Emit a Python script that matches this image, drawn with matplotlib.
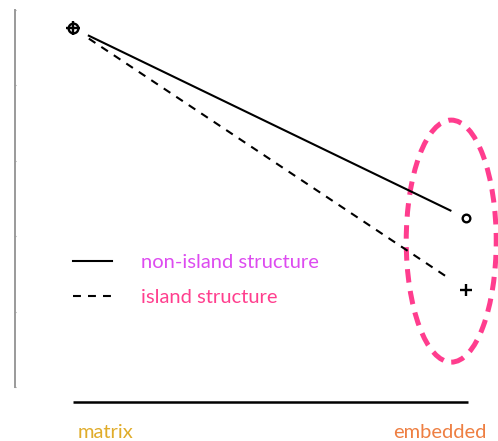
import numpy as np
import matplotlib
matplotlib.use("Agg")
import matplotlib.pyplot as plt
from matplotlib.patches import Ellipse

# categories along x and the two series (start at matrix, end at embedded)
categories = ["matrix", "embedded"]
series_names = ["non-island structure", "island structure"]
non_island = [4.76, 2.24]
island = [4.76, 1.29]
y_ticks = [0, 1, 2, 3, 4, 5]

cat_colors = ["#E0AC2A", "#EE7F42"]
label_colors = ["#DD4BF0", "#FF3F8E"]
ellipse_color = "#FF3D8E"

plt.rcParams['font.family'] = ['Lato', 'DejaVu Sans']

fig = plt.figure(figsize=(4.98, 4.41), dpi=100)
ax = fig.add_axes([0, 0, 1, 1])
ax.set_xlim(-0.186, 1.081)
ax.set_ylim(-0.716, 5.133)

xs = np.arange(len(categories))
shrink = 0.04  # gap between line ends and markers
line_styles = ["-", "--"]
lines = []
for vals, ls, name in zip([non_island, island], line_styles, series_names):
    x0, x1 = xs[0] + shrink, xs[-1] - shrink
    y0 = np.interp(x0, xs, vals)
    y1 = np.interp(x1, xs, vals)
    ln, = ax.plot([x0, x1], [y0, y1], color="black", lw=1.5, ls=ls,
                  dashes=(3.8, 3.4) if ls == "--" else (None, None), label=name)
    lines.append(ln)

# markers: circle for non-island, plus for island (start one drawn a bit heavier)
sizes_o = [7, 5.5]
sizes_p = [10, 8.5]
for x, yo, yp, so, sp in zip(xs, non_island, island, sizes_o, sizes_p):
    ax.plot(x, yo, ls="none", marker="o", ms=so, mfc="white", mec="black", mew=1.7)
    ax.plot(x, yp, ls="none", marker="+", ms=sp, mec="black", mew=1.7)

# dashed ellipse around embedded results
cx = xs[-1] - 0.038
cy = (non_island[-1] + island[-1]) / 2 + 0.17
ax.add_patch(Ellipse((cx, cy), 0.229, 3.21, fill=False, ec=ellipse_color,
                     lw=3.6, ls=(0, (2.7, 1.7))))

# left axis
for s in ["top", "right", "bottom"]:
    ax.spines[s].set_visible(False)
ax.spines["left"].set_position(("data", -0.148))
ax.spines["left"].set_bounds(y_ticks[0], y_ticks[-1])
ax.spines["left"].set_color("#9a9a9a")
ax.spines["left"].set_linewidth(1.4)
ax.set_yticks(y_ticks)
ax.set_yticklabels([])
ax.tick_params(axis="y", length=1.5, width=0.8, color="#9a9a9a", direction="inout")
ax.set_xticks([])

# bottom category line and labels
ax.plot([xs[0], xs[-1] + 0.005], [-0.2, -0.2], color="black", lw=1.8,
        solid_capstyle="butt")
ax.text(xs[0] + 0.012, -0.6, categories[0], color=cat_colors[0], fontsize=14.5,
        ha="left", va="center")
ax.text(xs[-1] + 0.053, -0.6, categories[1], color=cat_colors[1], fontsize=14.5,
        ha="right", va="center")

leg = ax.legend(handles=lines, loc="upper left", bbox_to_anchor=(73 / 498, 1 - 254 / 441),
                frameon=False, fontsize=14.5, handlelength=1.95, handletextpad=1.45,
                labelspacing=0.9, borderpad=0, borderaxespad=0)
for t, c in zip(leg.get_texts(), label_colors):
    t.set_color(c)

fig.savefig("out.png", dpi=100)
